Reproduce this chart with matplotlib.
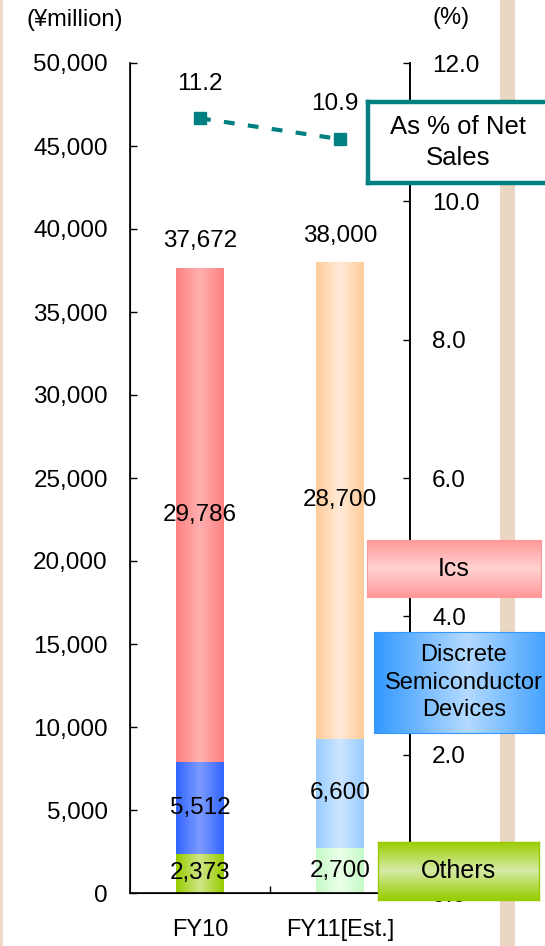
import numpy as np
import matplotlib
matplotlib.use("Agg")
import matplotlib.pyplot as plt
from matplotlib.patches import Rectangle
from matplotlib.colors import LinearSegmentedColormap
from matplotlib.ticker import FixedLocator, FuncFormatter

plt.rcParams['font.family'] = ['Liberation Sans', 'DejaVu Sans']

# ---- data ----
categories = ["FY10", "FY11[Est.]"]
others = [2373, 2700]
discrete = [5512, 6600]
ics = [29786, 28700]
totals = [37672, 38000]
pct_net_sales = [11.2, 10.9]

left_ticks = [0, 5000, 10000, 15000, 20000, 25000, 30000, 35000, 40000, 45000, 50000]
right_ticks = [0, 2, 4, 6, 8, 10, 12]

# horizontal gradient colours per segment: (edge, centre)
fy10_cols = {"others": ("#99CC00", "#CFE687"),
             "discrete": ("#3366FF", "#7D9BFF"),
             "ics": ("#FF8080", "#FFB0B0")}
fy11_cols = {"others": ("#C8FAC8", "#EAFFEA"),
             "discrete": ("#99CCFF", "#CDE6FF"),
             "ics": ("#FFCC99", "#FFEAD8")}
seg_cols = [fy10_cols, fy11_cols]

FS = 17.5
W, H = 545, 946
fig = plt.figure(figsize=(W / 100, H / 100), dpi=100)
fig.patch.set_facecolor("white")

# decorative page stripes
fig.patches.append(Rectangle((0, 0), 3 / W, 1, transform=fig.transFigure,
                             facecolor="#F0DCC8", edgecolor="none", zorder=0))
fig.patches.append(Rectangle((500 / W, 0), 15 / W, 1, transform=fig.transFigure,
                             facecolor="#EBD6C2", edgecolor="none", zorder=0))

ax = fig.add_axes([130 / W, 1 - 893 / H, 280 / W, 830 / H])
ax.set_facecolor("none")


def hgrad(edge, centre, n=64):
    cmap = LinearSegmentedColormap.from_list("g", [edge, centre, edge])
    return cmap, np.linspace(0, 1, n).reshape(1, -1)


x = np.arange(len(categories))
bw = 0.34
bottoms = np.zeros(len(categories))
for key, vals in (("others", others), ("discrete", discrete), ("ics", ics)):
    bars = ax.bar(x, vals, bw, bottom=bottoms, facecolor="none", edgecolor="none", zorder=2)
    for i, b in enumerate(bars):
        edge, centre = seg_cols[i][key]
        cmap, grad = hgrad(edge, centre)
        x0, y0 = b.get_x(), b.get_y()
        im = ax.imshow(grad, cmap=cmap, aspect="auto",
                       extent=(x0, x0 + b.get_width(), y0, y0 + b.get_height()),
                       zorder=1, interpolation="bilinear")
        im.set_clip_path(b)
        ax.text(x[i], y0 + b.get_height() / 2, f"{vals[i]:,}", ha="center", va="center",
                fontsize=FS, zorder=3)
    bottoms = bottoms + np.array(vals)

for i, t in enumerate(totals):
    ax.annotate(f"{t:,}", (x[i], t), xytext=(0, 19), textcoords="offset points",
                ha="center", va="center", fontsize=FS)

ax.set_xlim(-0.5, 1.5)
ax.set_ylim(0, 50000)
ax.yaxis.set_major_locator(FixedLocator(left_ticks))
ax.yaxis.set_major_formatter(FuncFormatter(lambda v, p: f"{int(v):,}"))
ax.tick_params(axis="y", direction="in", length=5, width=1, pad=16, labelsize=FS)
ax.set_xticks(x)
ax.set_xticklabels(categories)
ax.set_xticks([0.5], minor=True)
ax.tick_params(axis="x", which="major", length=0, pad=19, labelsize=17)
ax.tick_params(axis="x", which="minor", direction="in", length=5, width=1)
ax.spines["top"].set_visible(False)
for s in ("left", "bottom", "right"):
    ax.spines[s].set_linewidth(1.2)

ax2 = ax.twinx()
ax2.set_ylim(0, 12)
ax2.yaxis.set_major_locator(FixedLocator(right_ticks))
ax2.yaxis.set_major_formatter(FuncFormatter(lambda v, p: f"{v:.1f}"))
ax2.tick_params(axis="y", direction="in", length=5, width=1, pad=16, labelsize=FS)
ax2.spines["top"].set_visible(False)
ax2.spines["right"].set_linewidth(1.2)
ax2.plot(x, pct_net_sales, color="#008080", lw=3, ls=(0, (2.6, 3.2)),
         marker="s", markersize=9, zorder=4)
for i, v in enumerate(pct_net_sales):
    ax2.annotate(f"{v:.1f}", (x[i], v), xytext=(-4 * i, 25), textcoords="offset points",
                 ha="center", va="center", fontsize=FS)

fig.text(27 / W, 1 - 20 / H, "(¥million)", ha="left", va="center", fontsize=17)
fig.text(432 / W, 1 - 18 / H, "(%)", ha="left", va="center", fontsize=17)


def legend_box(x0, y0, x1, y1, text, fill, border, bw_, vertical, fs, ls=1.2, cx=None):
    bax = fig.add_axes([x0 / W, 1 - y1 / H, (x1 - x0) / W, (y1 - y0) / H], zorder=10)
    bax.set_xlim(0, 1)
    bax.set_ylim(0, 1)
    bax.set_xticks([])
    bax.set_yticks([])
    if fill is None:
        bax.set_facecolor("white")
    else:
        edge, centre = fill
        cmap = LinearSegmentedColormap.from_list("b", [edge, centre, edge])
        g = np.linspace(0, 1, 64)
        g = g.reshape(-1, 1) if vertical else g.reshape(1, -1)
        bax.imshow(g, cmap=cmap, aspect="auto", extent=(0, 1, 0, 1),
                   interpolation="bilinear")
    for s in bax.spines.values():
        s.set_edgecolor(border)
        s.set_linewidth(bw_)
    if cx is None:
        cx = (x0 + x1) / 2
    bax.text((cx - x0) / (x1 - x0), 0.5, text, ha="center", va="center",
             fontsize=fs, linespacing=ls, transform=bax.transAxes)
    return bax


legend_box(368, 102, 556, 183, "As % of Net\nSales", None, "#008080", 3.2, False, 18.5, 1.35, cx=458)
legend_box(367, 540, 541, 597, "Ics", ("#FF9999", "#FFD2D2"), "#FF9999", 0.8, True, 18)
legend_box(374, 632, 560, 733, "Discrete\nSemiconductor\nDevices", ("#3399FF", "#B5DBFF"),
           "#3399FF", 0.8, False, 17, 1.3, cx=464)
legend_box(378, 842, 539, 900, "Others", ("#99CC00", "#D6EBA6"), "#99CC00", 1.0, True, 18)

fig.savefig("out.png", dpi=100)
